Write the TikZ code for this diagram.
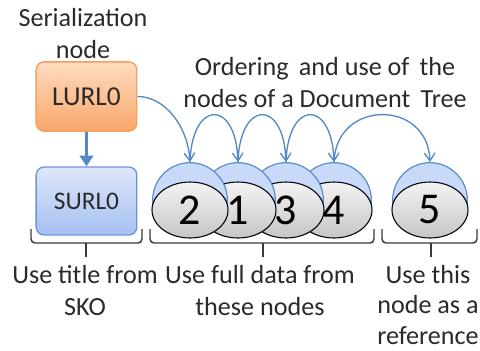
\documentclass[tikz,border=0pt]{standalone}
\usepackage{fontspec}
\setmainfont{Carlito}
\usetikzlibrary{shapes.geometric,arrows.meta}

\definecolor{orgtop}{HTML}{FFDCC0}
\definecolor{orgbot}{HTML}{F9A66A}
\definecolor{orgline}{HTML}{F4A060}
\definecolor{bluetop}{HTML}{DDE7FA}
\definecolor{bluebot}{HTML}{A5C0F2}
\definecolor{blueline}{HTML}{6C95D6}
\definecolor{backfill}{HTML}{C9DAF8}
\definecolor{backline}{HTML}{5B8CD0}
\definecolor{arcblue}{HTML}{5688C8}
\definecolor{greytop}{HTML}{F3F3F3}
\definecolor{greybot}{HTML}{C6C6C6}
\definecolor{txt}{HTML}{2A2A2A}
\definecolor{brk}{HTML}{3A3A3A}

\tikzset{
  label text/.style={text=txt, align=center, inner sep=0pt,
    font=\fontsize{19.6}{24}\selectfont},
  urlbox/.style={rounded corners=6pt, minimum width=75.5pt, minimum height=52pt,
    inner sep=0pt, line width=1pt, text=txt},
  backdisc/.style={circle, minimum size=56pt, inner sep=0pt, fill=backfill,
    draw=backline, line width=0.9pt},
  docnode/.style={ellipse, minimum width=57pt, minimum height=42pt, inner sep=0pt,
    top color=greytop, bottom color=greybot, draw=black, line width=0.8pt,
    font=\fontsize{33}{33}\selectfont},
  order arc/.style={draw=arcblue, line width=1pt,
    -{Straight Barb[length=6pt,width=8pt]}},
  bracket/.style={draw=brk, line width=1.1pt, rounded corners=3pt},
}

\begin{document}
\begin{tikzpicture}[x=0.75pt, y=-0.75pt]
\useasboundingbox[fill=white] (0,0) rectangle (480,351);

% serialization and title boxes
\node[urlbox, top color=orgtop, bottom color=orgbot, draw=orgline,
      font=\fontsize{20.5}{20.5}\selectfont] (lurl) at (86.5,96.5) {LURL0};
\node[urlbox, top color=bluetop, bottom color=bluebot, draw=blueline,
      font=\fontsize{19}{19}\selectfont, minimum height=51pt] (surl) at (86.5,201) {SURL0};
\draw[draw=arcblue, line width=2.3pt, -{Triangle[length=8pt,width=10pt]}]
  (lurl.south) -- (surl.north);

\node[label text] (sertitle) at (83,34) {Serialization\\node};
\node[label text] (ordtitle) at (325,82.5) {Ordering\, and use of\, the\\nodes of a Document\, Tree};

% document tree nodes, drawn right to left so the left ones overlap
\node[backdisc] (b5) at (430,200) {};
\node[docnode] (n5) at (430,210) {5};
\node[backdisc] (b4) at (334,200) {};
\node[docnode] (n4) at (334,210) {4};
\node[backdisc] (b3) at (286,200) {};
\node[docnode] (n3) at (286,210) {3};
\node[backdisc] (b1) at (238,200) {};
\node[docnode] (n1) at (238,210) {1};
\node[backdisc] (b2) at (190,200) {};
\node[docnode] (n2) at (190,210) {2};

% ordering arcs
\draw[order arc] (lurl.east) .. controls +(28,0) and +(-2,-35) .. (b2.north);
\draw[order arc] (b2.north) .. controls +(2,-63) and +(-2,-63) .. (b1.north);
\draw[order arc] (b1.north) .. controls +(2,-63) and +(-2,-63) .. (b3.north);
\draw[order arc] (b3.north) .. controls +(2,-63) and +(-2,-63) .. (b4.north);
\draw[order arc] (b4.north) .. controls +(2,-63) and +(-2,-63) .. (b5.north);

% brackets
\draw[bracket] (31,229) -- (31,243) -- (142,243) -- (142,229);
\draw[bracket] (86,243) -- (86,257);
\draw[bracket] (150,229) -- (150,243) -- (374,243) -- (374,229);
\draw[bracket] (263,243) -- (263,257);
\draw[bracket] (382,229) -- (382,243) -- (477,243) -- (477,229);
\draw[bracket] (431,243) -- (431,257);

% captions
\node[label text] (captitle) at (85,291) {Use title from\\SKO};
\node[label text] (capfull) at (260,291) {Use full data from\\these nodes};
\node[label text, font=\fontsize{19.6}{22.8}\selectfont] (capref) at (428,305) {Use this\\node as a\\reference};
\end{tikzpicture}
\end{document}
